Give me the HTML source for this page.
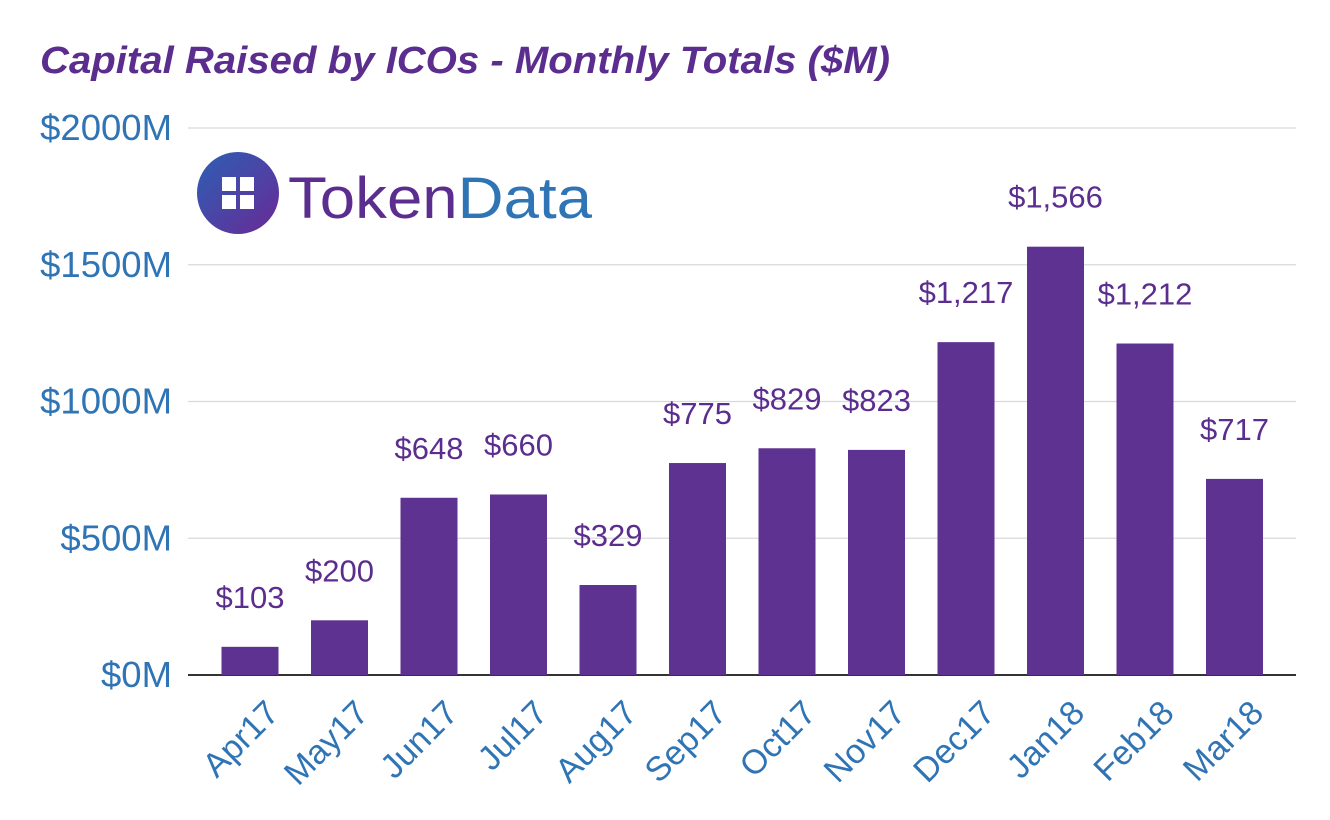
<!DOCTYPE html>
<html><head><meta charset="utf-8"><style>
body{margin:0;background:#fff;width:1330px;height:820px;overflow:hidden}
svg{display:block;font-family:"Liberation Sans",sans-serif}
</style></head><body>
<svg id="chart" width="1330" height="820">
<text x="40" y="73" font-size="38" font-weight="bold" font-style="italic" fill="#5b2d8e" textLength="850" lengthAdjust="spacingAndGlyphs">Capital Raised by ICOs - Monthly Totals ($M)</text>
<g>
<defs><linearGradient id="lg" x1="0" y1="0" x2="1" y2="1"><stop offset="0" stop-color="#2b5fb5"/><stop offset="1" stop-color="#6a2a95"/></linearGradient></defs>
<circle cx="238" cy="193" r="41" fill="url(#lg)"/>
<rect x="222" y="177" width="14" height="14" fill="#fff"/><rect x="240" y="177" width="14" height="14" fill="#fff"/>
<rect x="222" y="195" width="14" height="14" fill="#fff"/><rect x="240" y="195" width="14" height="14" fill="#fff"/>
<text x="288" y="218" font-size="58" fill="#5b2d8e" textLength="304" lengthAdjust="spacingAndGlyphs">Token<tspan fill="#2f74b5">Data</tspan></text>
</g>
<g id="grid"></g><g id="bars"></g><g id="labels"></g>
</svg>
<script>
const categories=["Apr17","May17","Jun17","Jul17","Aug17","Sep17","Oct17","Nov17","Dec17","Jan18","Feb18","Mar18"];
const values=[103,200,648,660,329,775,829,823,1217,1566,1212,717];
const valueLabels=["$103","$200","$648","$660","$329","$775","$829","$823","$1,217","$1,566","$1,212","$717"];
const yTicks=[0,500,1000,1500,2000];
const yTickLabels=["$0M","$500M","$1000M","$1500M","$2000M"];
const NS="http://www.w3.org/2000/svg";
const y=v=>675-v*(547/2000);
const x=i=>250+i*89.5;
function mk(tag,attrs,parent){const e=document.createElementNS(NS,tag);for(const k in attrs)e.setAttribute(k,attrs[k]);document.getElementById(parent).appendChild(e);return e;}
yTicks.forEach((t,i)=>{
  const l=mk('line',{x1:188,x2:1296,y1:y(t),y2:y(t),stroke:i==0?'#333':'#d9d9d9','stroke-width':i==0?2:1.3},'grid');
  
  
  const tx=mk('text',{x:172,y:y(t)+12,'text-anchor':'end','font-size':36.5,fill:'#2f74b5'},'grid');
  tx.textContent=yTickLabels[i];
  
  
});
categories.forEach((c,i)=>{
  const b=mk('rect',{x:x(i)-28.5,y:y(values[i]),width:57,height:675-y(values[i]),fill:'#5e3290'},'bars');
  
  
  const v=mk('text',{x:x(i),y:y(values[i])-39,'text-anchor':'middle','font-size':31,fill:'#5b2d8e'},'labels');
  v.textContent=valueLabels[i];
  
  
  const cx=x(i)+14, cy=698;
  const t=mk('text',{x:cx,y:cy,'text-anchor':'end','font-size':34,fill:'#2f74b5',transform:`rotate(-45 ${cx} ${cy})`,dy:'0.7em'},'labels');
  t.textContent=c;
  
  
});
</script>
</body></html>
